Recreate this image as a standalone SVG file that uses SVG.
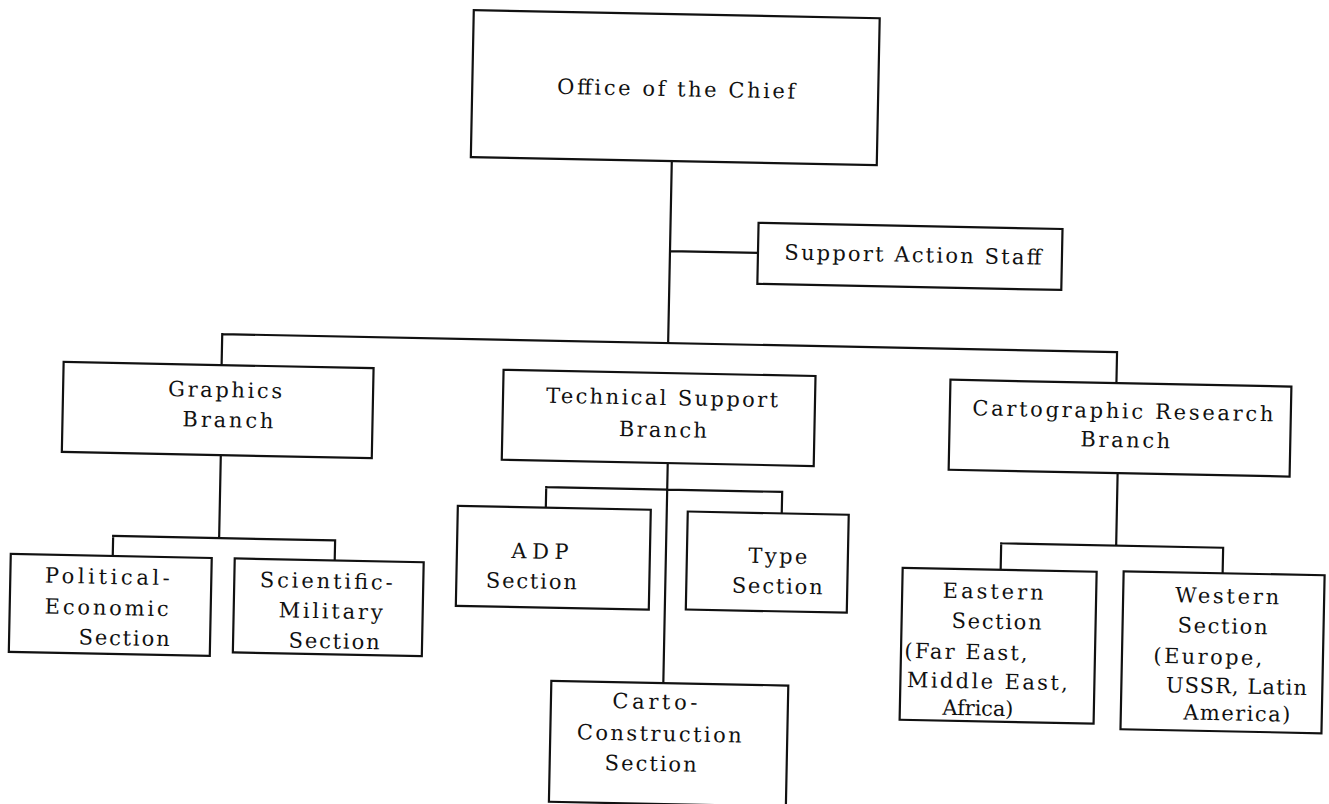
<svg xmlns="http://www.w3.org/2000/svg" width="1329" height="804" viewBox="0 0 1329 804">
<style>
.box{fill:#fff;stroke:#111;stroke-width:2.2}
.ln{fill:none;stroke:#111;stroke-width:2.2;stroke-linecap:square}
text{font-family:"DejaVu Serif","Liberation Serif",serif;font-size:21px;fill:#111;text-anchor:middle}
</style>
<rect width="1329" height="804" fill="#fff"/>
<g transform="rotate(1.15 664 400)">
<g id="connectors">
<path class="ln" d="M667,161 V343 M667,251 H755 M221,343 H1116 M221,343 V374 M1116,343 V374"/>
<path class="ln" d="M222,464 V547 M116,547 H338 M116,547 V567 M338,547 V567"/>
<path class="ln" d="M669,463 V683 M548,489.5 H784 M548,489.5 V510 M784,489.5 V511"/>
<path class="ln" d="M1119,464 V536.5 M1004,536.5 H1226 M1004,536.5 V563 M1226,536.5 V562"/>
</g>
<g id="office">
<rect class="box" x="466" y="14" width="406" height="147"/>
<text x="670" y="96" textLength="238" lengthAdjust="spacing">Office of the Chief</text>
</g>
<g id="support">
<rect class="box" x="755" y="221" width="304" height="61"/>
<text x="910" y="257" textLength="257" lengthAdjust="spacing">Support Action Staff</text>
</g>
<g id="graphics">
<rect class="box" x="63" y="374" width="310" height="90"/>
<text x="225" y="406" textLength="114" lengthAdjust="spacing">Graphics</text>
<text x="228.5" y="436" textLength="91" lengthAdjust="spacing">Branch</text>
</g>
<g id="technical">
<rect class="box" x="503" y="373" width="312" height="90"/>
<text x="662" y="405" textLength="232" lengthAdjust="spacing">Technical Support</text>
<text x="663.5" y="437" textLength="88" lengthAdjust="spacing">Branch</text>
</g>
<g id="cartographic">
<rect class="box" x="950" y="374" width="341" height="90"/>
<text x="1123" y="409" textLength="301" lengthAdjust="spacing">Cartographic Research</text>
<text x="1126" y="438" textLength="90" lengthAdjust="spacing">Branch</text>
</g>
<g id="political">
<rect class="box" x="14" y="567" width="201" height="98"/>
<text x="111" y="595" textLength="125" lengthAdjust="spacing">Political-</text>
<text x="111" y="626" textLength="124" lengthAdjust="spacing">Economic</text>
<text x="129" y="656" textLength="91" lengthAdjust="spacing">Section</text>
</g>
<g id="scientific">
<rect class="box" x="238" y="567" width="189" height="94"/>
<text x="330" y="595" textLength="133" lengthAdjust="spacing">Scientific-</text>
<text x="335" y="625" textLength="104" lengthAdjust="spacing">Military</text>
<text x="339" y="655" textLength="91" lengthAdjust="spacing">Section</text>
</g>
<g id="adp">
<rect class="box" x="460" y="510" width="193" height="100"/>
<text x="543" y="561" textLength="57" lengthAdjust="spacing">ADP</text>
<text x="535" y="591" textLength="91" lengthAdjust="spacing">Section</text>
</g>
<g id="type">
<rect class="box" x="690" y="511" width="161" height="98"/>
<text x="781" y="561" textLength="59" lengthAdjust="spacing">Type</text>
<text x="781" y="591" textLength="91" lengthAdjust="spacing">Section</text>
</g>
<g id="carto">
<rect class="box" x="557" y="683" width="237" height="121"/>
<text x="661" y="709" textLength="85" lengthAdjust="spacing">Carto-</text>
<text x="666" y="741" textLength="165" lengthAdjust="spacing">Construction</text>
<text x="658" y="771" textLength="92" lengthAdjust="spacing">Section</text>
</g>
<g id="eastern">
<rect class="box" x="906" y="563" width="194" height="152"/>
<text x="997" y="592" textLength="101" lengthAdjust="spacing">Eastern</text>
<text x="1001" y="622" textLength="90" lengthAdjust="spacing">Section</text>
<text x="971" y="653" textLength="123" lengthAdjust="spacing">(Far East,</text>
<text x="993" y="682" textLength="161" lengthAdjust="spacing">Middle East,</text>
<text x="984" y="709" textLength="71" lengthAdjust="spacing">Africa)</text>
</g>
<g id="western">
<rect class="box" x="1127" y="562" width="201" height="158"/>
<text x="1231" y="592" textLength="104" lengthAdjust="spacing">Western</text>
<text x="1227" y="622" textLength="90" lengthAdjust="spacing">Section</text>
<text x="1213" y="653" textLength="109" lengthAdjust="spacing">(Europe,</text>
<text x="1242" y="682" textLength="141" lengthAdjust="spacing">USSR, Latin</text>
<text x="1243" y="709" textLength="107" lengthAdjust="spacing">America)</text>
</g>
</g>
</svg>
